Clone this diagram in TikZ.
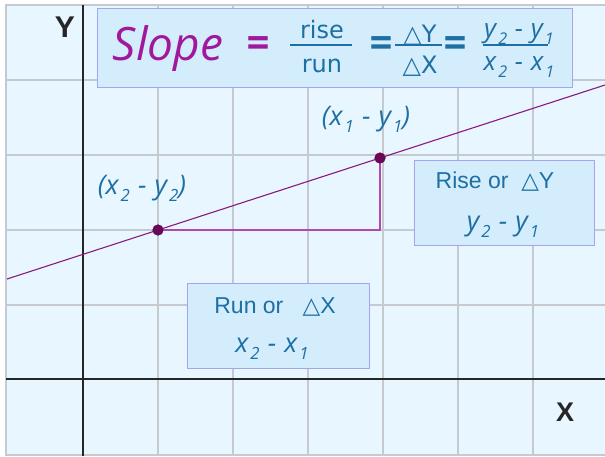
\documentclass[tikz,border=0pt]{standalone}
\usepackage{fontspec}
\setmainfont{Liberation Sans}
\newfontfamily\osans{Open Sans}
\newfontfamily\dvs{DejaVu Sans}
\definecolor{bgc}{HTML}{E8F6FF}
\definecolor{gridc}{HTML}{C6CACE}
\definecolor{boxf}{HTML}{D4EDFC}
\definecolor{boxb}{HTML}{A4A4F4}
\definecolor{tblue}{HTML}{1E6FA3}
\definecolor{purp}{HTML}{A0189C}
\definecolor{linec}{HTML}{8A1A7E}
\definecolor{tric}{HTML}{B048B0}
\definecolor{dotc}{HTML}{6A0858}
\newcommand\sbx[1]{\hspace{0.08em}\raisebox{-0.55ex}{\scalebox{0.62}{#1}}}
\newcommand\hy{\hspace{0.3em}-\hspace{0.3em}}
\newcommand\tri{{\dvs △}}
\begin{document}
\begin{tikzpicture}[x=1pt,y=-1pt,
  gridline/.style={draw=gridc,line width=1.3pt},
  axisline/.style={draw=black!85,line width=1.6pt},
  axlabel/.style={inner sep=0,text=black!85,font=\bfseries\fontsize{30}{32}\selectfont},
  slopeline/.style={draw=linec,line width=1.1pt},
  triline/.style={draw=tric,line width=1.8pt},
  ptdot/.style={circle,fill=dotc,inner sep=0,minimum size=11pt},
  tbox/.style={draw=boxb,fill=boxf,line width=1pt,inner sep=0},
  btxt/.style={inner sep=0,text=tblue},
  vlabel/.style={btxt,anchor=base,font=\osans\itshape\fontsize{27}{29}\selectfont},
  ftxt/.style={btxt,anchor=base,font=\dvs\fontsize{24}{26}\selectfont},
  fvar/.style={btxt,anchor=base,font=\osans\itshape\fontsize{26}{28}\selectfont},
  fbar/.style={draw=tblue,line width=2.5pt},
  eqsign/.style={inner sep=0,font=\dvs\bfseries\fontsize{31}{33}\selectfont},
  boxtxt/.style={btxt,anchor=base,font=\fontsize{23}{25}\selectfont},
]
\useasboundingbox (0,0) rectangle (605,456);
\fill[white] (0,0) rectangle (605,456);
\fill[bgc] (6,5) rectangle (605,456);
\foreach \x in {158,233,308,383,458,533} \draw[gridline] (\x,5) -- (\x,456);
\foreach \y in {80,155,230,305,455} \draw[gridline] (6,\y) -- (605,\y);
\draw[gridline] (605,5) -- (6,5) -- (6,456);
\draw[axisline] (83,5) -- (83,456);
\draw[axisline] (6,379) -- (605,379);
\node[axlabel] (ylab) at (65,27) {Y};
\node[axlabel,font=\bfseries\fontsize{27}{29}\selectfont] (xlab) at (565,412) {X};
% slope line and triangle
\coordinate (l0) at (7,279);
\coordinate (l1) at (605,85);
\coordinate (corner) at (380,230);
\draw[slopeline] (l0) -- (l1);
\node[ptdot] (p2) at (158,230) {};
\node[ptdot] (p1) at (380,158) {};
\draw[triline] (p2.center) -- (corner) -- (p1.center);
\node[ptdot] at (158,230) {};
\node[ptdot] at (380,158) {};
\node[vlabel] (lab1) at (366,125) {(x\sbx{1}\hy y\sbx{1})};
\node[vlabel] (lab2) at (142,194) {(x\sbx{2}\hy y\sbx{2})};
% title box
\node[tbox,minimum width=475,minimum height=79] (title) at (334.5,47.5) {};
\node[inner sep=0,anchor=base,text=purp,font=\osans\itshape\fontsize{46}{50}\selectfont] (slope) at (168,60) {Slope};
\node[eqsign,text=purp,yscale=1.2] (eq1) at (258,46) {=};
\node[ftxt] (rise) at (322,38) {rise};
\node[ftxt] (run) at (322,72) {run};
\draw[fbar] (290,45) -- (352,45);
\node[eqsign,text=tblue,yscale=1.2] (eq2) at (381,46) {=};
\node[ftxt] (dy) at (420,42) {△Y};
\node[ftxt] (dx) at (420,73) {△X};
\draw[fbar] (395,45) -- (442,45);
\node[eqsign,text=tblue,yscale=1.2] (eq3) at (455,46) {=};
\node[fvar] (ynum) at (519,37) {y\sbx{2}\hy y\sbx{1}};
\node[fvar] (xden) at (519,70) {x\sbx{2}\hy x\sbx{1}};
\draw[fbar] (483,45) -- (548,45);
% rise box
\node[tbox,minimum width=180,minimum height=85] (risebox) at (504,202.5) {};
\node[boxtxt] (risetxt) at (495,188) {Rise or \ \tri Y};
\node[vlabel] (risevar) at (503,230) {y\sbx{2}\hy y\sbx{1}};
% run box
\node[tbox,minimum width=182,minimum height=85] (runbox) at (278,325.5) {};
\node[boxtxt] (runtxt) at (275,313) {Run or \ \ \tri X};
\node[vlabel] (runvar) at (272,352) {x\sbx{2}\hy x\sbx{1}};
\end{tikzpicture}
\end{document}
